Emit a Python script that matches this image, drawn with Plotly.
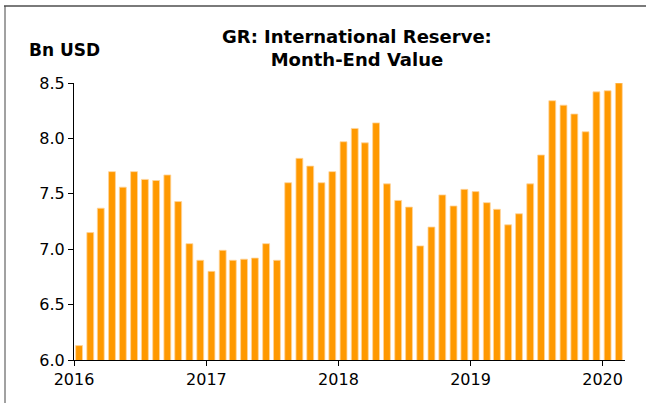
import pandas as pd
import plotly.graph_objects as go

# month-end reserves, Bn USD (Jan 2016 - Feb 2020)
months = pd.date_range("2016-01-01", periods=50, freq="MS") + pd.Timedelta(days=14)
values_2016 = [6.13, 7.15, 7.37, 7.70, 7.56, 7.70, 7.63, 7.62, 7.67, 7.43, 7.05, 6.90]
values_2017 = [6.80, 6.99, 6.90, 6.91, 6.92, 7.05, 6.90, 7.60, 7.82, 7.75, 7.60, 7.70]
values_2018 = [7.97, 8.09, 7.96, 8.14, 7.59, 7.44, 7.38, 7.03, 7.20, 7.49, 7.39, 7.54]
values_2019 = [7.52, 7.42, 7.36, 7.22, 7.32, 7.59, 7.85, 8.34, 8.30, 8.22, 8.06, 8.42]
values_2020 = [8.43, 8.50]
values = values_2016 + values_2017 + values_2018 + values_2019 + values_2020

year_ticks = ["2016-01-01", "2017-01-01", "2018-01-01", "2019-01-01", "2020-01-01"]
year_labels = ["2016", "2017", "2018", "2019", "2020"]

W, H = 646, 403
L, R, T, B = 74, 21, 83, 43
pw, ph = W - L - R, H - T - B


def px_x(x):
    return (x - L) / pw


def px_y(y):
    return (H - B - y) / ph


fig = go.Figure()
fig.add_trace(go.Bar(
    x=months,
    y=values,
    width=19 * 24 * 3600 * 1000,
    marker=dict(color="#ff9900", line=dict(color="#ffd49a", width=0.8)),
    hoverinfo="x+y",
))

font = "DejaVu Sans, Arial, sans-serif"

fig.update_layout(
    width=W, height=H,
    margin=dict(l=L, r=R, t=T, b=B),
    plot_bgcolor="white",
    paper_bgcolor="white",
    showlegend=False,
    font=dict(family=font, size=16, color="black"),
    xaxis=dict(
        type="date",
        range=["2016-01-01", "2020-03-03"],
        tickvals=year_ticks,
        ticktext=year_labels,
        ticks="outside", ticklen=5, tickcolor="black",
        showline=True, linecolor="black", linewidth=1,
        showgrid=False, zeroline=False,
        tickfont=dict(size=16),
    ),
    yaxis=dict(
        range=[6.0, 8.5],
        tickvals=[6.0, 6.5, 7.0, 7.5, 8.0, 8.5],
        tickformat=".1f",
        ticks="outside", ticklen=5, tickcolor="black",
        showline=True, linecolor="black", linewidth=1,
        showgrid=False, zeroline=False,
        tickfont=dict(size=16),
    ),
    annotations=[
        dict(text="<b>GR: International Reserve:<br>Month-End Value</b>",
             xref="paper", yref="paper", x=px_x(357), y=px_y(48),
             xanchor="center", yanchor="middle", showarrow=False,
             font=dict(size=18, family=font)),
        dict(text="<b>Bn USD</b>", xref="paper", yref="paper",
             x=px_x(27), y=px_y(50), xanchor="left", yanchor="middle",
             showarrow=False, font=dict(size=17, family=font)),
    ],
    # outer frame: only its top and left edges fall inside the page
    shapes=[
        dict(type="line", xref="paper", yref="paper", layer="above",
             x0=px_x(4), x1=px_x(W + 5), y0=px_y(6), y1=px_y(6),
             line=dict(color="#7a7a7a", width=2)),
        dict(type="line", xref="paper", yref="paper", layer="above",
             x0=px_x(5), x1=px_x(5), y0=px_y(6), y1=px_y(H + 5),
             line=dict(color="#444444", width=1)),
    ],
)

fig.write_html(
    "out.html", config={"displayModeBar": False},
    post_script="document.body.style.margin='0px';"
                "document.body.style.overflow='hidden';"
                "document.documentElement.style.overflow='hidden';",
)
